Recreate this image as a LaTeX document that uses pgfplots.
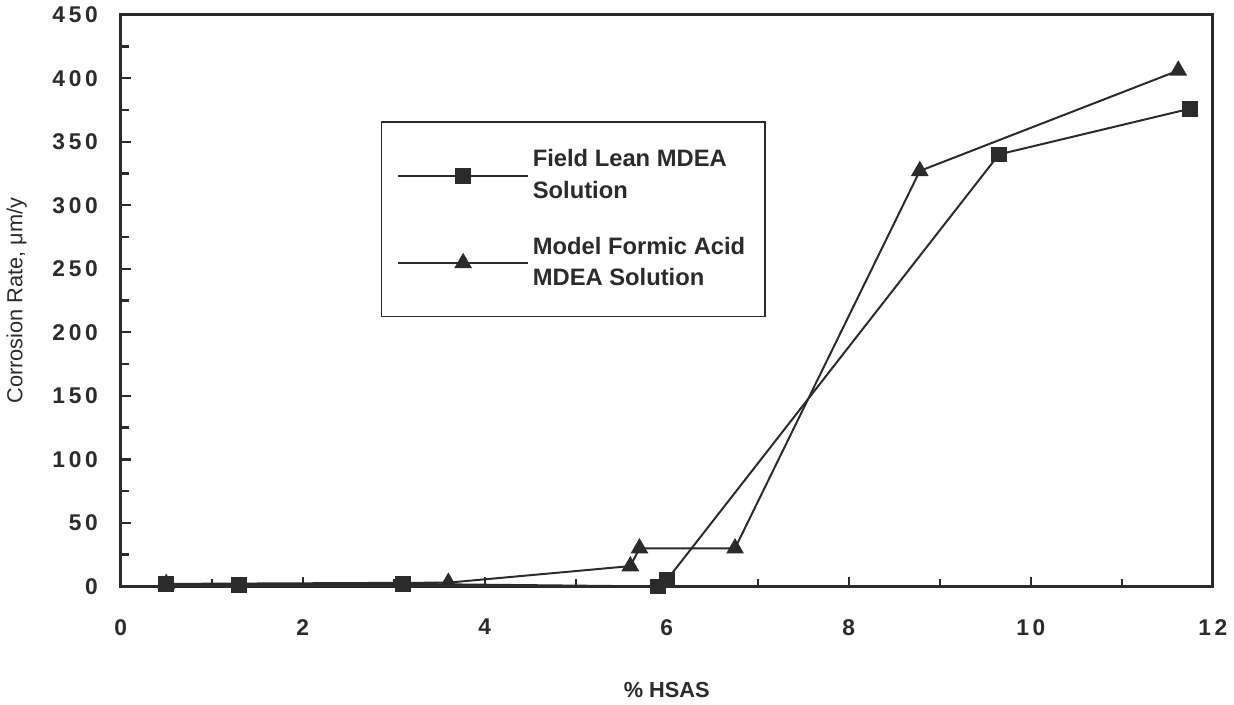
\documentclass[border=0pt]{standalone}
\usepackage{pgfplots}
\pgfplotsset{compat=1.18}
\usepackage{fontspec}
\setmainfont{Liberation Sans}
\definecolor{ink}{HTML}{2B2B2B}

\begin{document}
\begin{tikzpicture}
\begin{axis}[
  scale only axis,
  width=552pt, height=289pt,
  xmin=0, xmax=12, ymin=0, ymax=450,
  axis line style={ink, line width=1.5pt},
  xtick={0,2,...,12},
  xticklabels={0,2,4,6,8,1\,0,1\,2},
  minor xtick={1,3,...,11},
  ytick={0,50,...,450},
  yticklabels={0,5\,0,1\,0\,0,1\,5\,0,2\,0\,0,2\,5\,0,3\,0\,0,3\,5\,0,4\,0\,0,4\,5\,0},
  minor ytick={25,75,...,425},
  tick align=inside,
  major tick length=5pt, minor tick length=4pt,
  tick style={ink, line width=1.2pt},
  xtick pos=bottom, ytick pos=left,
  /pgf/number format/assume math mode=true,
  tick label style={font=\fontsize{11.5}{13}\selectfont\bfseries, text=ink},
  xticklabel style={yshift=-13pt},
  yticklabel style={xshift=-8pt},
  xlabel={\% HSAS},
  xlabel style={font=\fontsize{11}{13}\selectfont\bfseries, text=ink, yshift=-17pt},
  ylabel={Corrosion Rate, μm/y},
  ylabel style={font=\fontsize{11}{13}\selectfont, text=ink, yshift=6pt},
  legend style={at={(axis cs:2.86,366)}, anchor=north west,
    draw=ink, line width=0.6pt, inner xsep=8pt, inner ysep=12pt,
    font=\fontsize{12}{16}\selectfont\bfseries, text=ink,
    row sep=14pt,
    cells={align=left, anchor=west}},
  legend image code/.code={
    \draw[mark repeat=2, mark phase=2]
      plot coordinates {(0cm,0cm) (1.15cm,0cm) (2.3cm,0cm)};},
]
\addplot[ink, line width=1pt, mark=square*, mark size=3.5pt,
  mark options={solid, fill=ink}]
  coordinates {
    (0.5,2) (1.3,1) (3.1,2) (5.9,0) (6.0,5) (9.65,340) (11.75,376)
  };
\addlegendentry{Field Lean MDEA\\Solution}
\addplot[ink, line width=1pt, mark=triangle*, mark size=4.2pt,
  mark options={solid, fill=ink}]
  coordinates {
    (0.5,2) (3.6,3) (5.6,16) (5.7,30) (6.75,30) (8.78,327) (11.62,406)
  };
\addlegendentry{Model Formic Acid\\MDEA Solution}
\end{axis}
\end{tikzpicture}
\end{document}
